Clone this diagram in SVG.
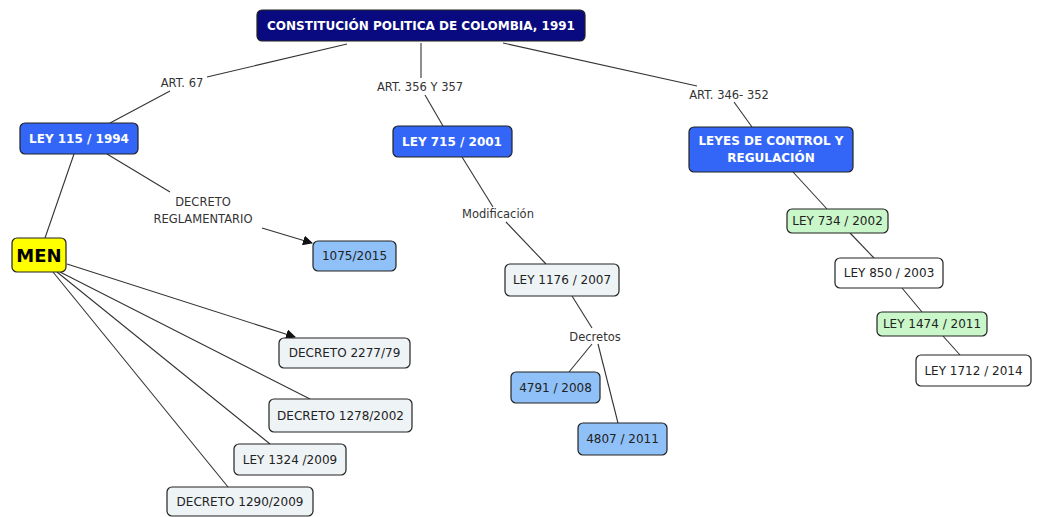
<svg xmlns="http://www.w3.org/2000/svg" width="1037" height="517" viewBox="0 0 1037 517">
<defs>
<style>
.n rect{stroke:#222;stroke-width:1.2}
.t{font-family:"DejaVu Sans",Verdana,sans-serif;font-size:12px;fill:#222;text-anchor:middle}
.b{font-weight:bold;fill:#fff}
.big{font-size:18px;font-weight:bold;fill:#000}
.lbl{font-family:"DejaVu Sans",Verdana,sans-serif;font-size:11.5px;fill:#333;text-anchor:middle}
.c line{stroke:#333;stroke-width:1.1;fill:none}
.navy{fill:#0a0a80}
.blue{fill:#3366f6}
.lb{fill:#8fc1f8}
.gr{fill:#eef3f6}
.gn{fill:#c9f7c9}
.wh{fill:#fff}
</style>
<marker id="ah" viewBox="0 0 10 10" refX="9" refY="5" markerWidth="10" markerHeight="10" markerUnits="userSpaceOnUse" orient="auto">
<path d="M0,0 L10,5 L0,10 z" fill="#111"/>
</marker>
</defs>
<rect width="1037" height="517" fill="#fff"/>
<g id="connectors" class="c">
<line x1="347" y1="44" x2="207" y2="77"/>
<line x1="170" y1="91" x2="110" y2="123"/>
<line x1="421" y1="43" x2="421" y2="78"/>
<line x1="425" y1="95" x2="443" y2="126"/>
<line x1="503" y1="43" x2="697" y2="86"/>
<line x1="734" y1="102" x2="752" y2="127"/>
<line x1="74" y1="154" x2="45" y2="238"/>
<line x1="107" y1="154" x2="170" y2="192"/>
<line x1="262" y1="228" x2="312" y2="243" marker-end="url(#ah)"/>
<line x1="67" y1="264" x2="295" y2="337" marker-end="url(#ah)"/>
<line x1="60" y1="272" x2="310" y2="399"/>
<line x1="57" y1="272" x2="270" y2="444"/>
<line x1="53" y1="272" x2="228" y2="487"/>
<line x1="462" y1="157" x2="493" y2="207"/>
<line x1="506" y1="222" x2="546" y2="264"/>
<line x1="572" y1="296" x2="592" y2="328"/>
<line x1="592" y1="344" x2="569" y2="372"/>
<line x1="598" y1="344" x2="618" y2="423"/>
<line x1="793" y1="172" x2="827" y2="209"/>
<line x1="850" y1="233" x2="874" y2="258"/>
<line x1="902" y1="288" x2="922" y2="312"/>
<line x1="943" y1="336" x2="960" y2="355"/>
</g>
<g id="labels">
<text class="lbl" x="182" y="87">ART. 67</text>
<text class="lbl" x="420" y="91">ART. 356 Y 357</text>
<text class="lbl" x="729" y="99">ART. 346- 352</text>
<text class="lbl" x="203" y="206">DECRETO</text>
<text class="lbl" x="203" y="223">REGLAMENTARIO</text>
<text class="lbl" x="498" y="218">Modificación</text>
<text class="lbl" x="595" y="341">Decretos</text>
</g>
<g id="n-root" class="n"><rect class="navy" x="257" y="10" width="328" height="31" rx="5"/><text class="t b" x="421" y="30">CONSTITUCIÓN POLITICA DE COLOMBIA, 1991</text></g>
<g id="n-ley115" class="n"><rect class="blue" x="20" y="123" width="118" height="31" rx="5"/><text class="t b" x="79" y="143">LEY 115 / 1994</text></g>
<g id="n-ley715" class="n"><rect class="blue" x="393" y="126" width="119" height="31" rx="5"/><text class="t b" x="452" y="146">LEY 715 / 2001</text></g>
<g id="n-leyes" class="n"><rect class="blue" x="689" y="127" width="164" height="45" rx="5"/><text class="t b" x="771" y="145">LEYES DE CONTROL Y</text><text class="t b" x="771" y="162">REGULACIÓN</text></g>
<g id="n-men" class="n"><rect fill="#ffff00" x="12" y="238" width="54" height="34" rx="5"/><text class="t big" x="39" y="262">MEN</text></g>
<g id="n-1075" class="n"><rect class="lb" x="313" y="241" width="83" height="30" rx="5"/><text class="t" x="354.500" y="260">1075/2015</text></g>
<g id="n-2277" class="n"><rect class="gr" x="279" y="338" width="131" height="30" rx="5"/><text class="t" x="344.500" y="357">DECRETO 2277/79</text></g>
<g id="n-1278" class="n"><rect class="gr" x="269" y="399" width="143" height="33" rx="5"/><text class="t" x="340.500" y="420">DECRETO 1278/2002</text></g>
<g id="n-1324" class="n"><rect class="gr" x="234" y="444" width="112" height="31" rx="5"/><text class="t" x="290" y="464">LEY 1324 /2009</text></g>
<g id="n-1290" class="n"><rect class="gr" x="167" y="487" width="146" height="29" rx="5"/><text class="t" x="240" y="506">DECRETO 1290/2009</text></g>
<g id="n-1176" class="n"><rect class="gr" x="505" y="264" width="114" height="32" rx="5"/><text class="t" x="562" y="284">LEY 1176 / 2007</text></g>
<g id="n-4791" class="n"><rect class="lb" x="511" y="372" width="89" height="31" rx="5"/><text class="t" x="555.500" y="392">4791 / 2008</text></g>
<g id="n-4807" class="n"><rect class="lb" x="578" y="423" width="89" height="32" rx="5"/><text class="t" x="622.500" y="443">4807 / 2011</text></g>
<g id="n-734" class="n"><rect class="gn" x="787" y="209" width="101" height="24" rx="5"/><text class="t" x="837.500" y="225">LEY 734 / 2002</text></g>
<g id="n-850" class="n"><rect class="wh" x="835" y="258" width="108" height="30" rx="5"/><text class="t" x="889" y="277">LEY 850 / 2003</text></g>
<g id="n-1474" class="n"><rect class="gn" x="877" y="312" width="110" height="24" rx="5"/><text class="t" x="932" y="328">LEY 1474 / 2011</text></g>
<g id="n-1712" class="n"><rect class="wh" x="916" y="355" width="115" height="31" rx="5"/><text class="t" x="973.500" y="375">LEY 1712 / 2014</text></g>
</svg>
